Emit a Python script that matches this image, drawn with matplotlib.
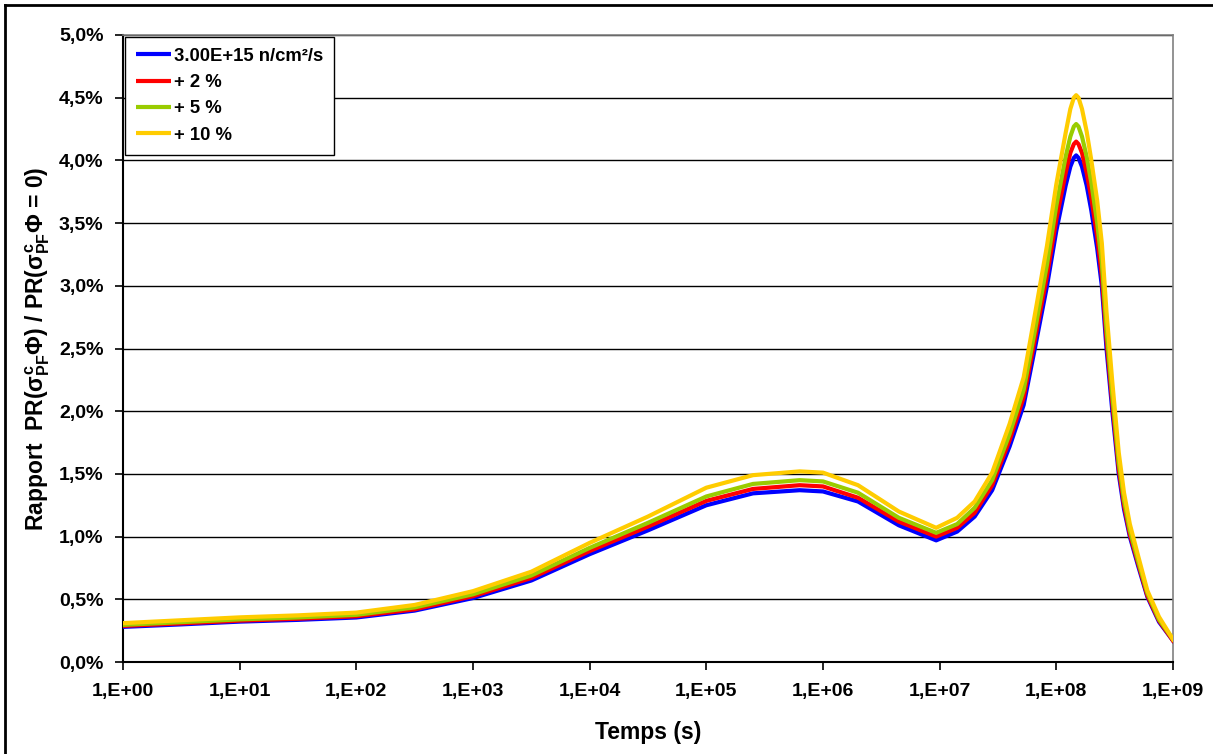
import numpy as np
import matplotlib
matplotlib.use("Agg")
import matplotlib.pyplot as plt
from matplotlib.ticker import FuncFormatter, FixedLocator
from matplotlib.lines import Line2D

plt.rcParams["font.family"] = ["Liberation Sans", "DejaVu Sans"]
plt.rcParams["font.weight"] = "bold"
plt.rcParams["mathtext.fontset"] = "custom"
plt.rcParams["mathtext.rm"] = "Liberation Sans:bold"
plt.rcParams["mathtext.it"] = "Liberation Sans:bold"
plt.rcParams["mathtext.bf"] = "Liberation Sans:bold"

# --------- data (log10 of time in s, ratio in %) ---------------------------------
log_t = [0.0, 0.5, 1.0, 1.5, 2.0, 2.5, 3.0, 3.5, 4.0, 4.5, 5.0, 5.4, 5.8, 6.0,
         6.3, 6.65, 6.97, 7.15, 7.3, 7.45, 7.6, 7.72, 7.82, 7.92, 8.0, 8.08,
         8.12, 8.15, 8.17, 8.19, 8.22, 8.26, 8.3, 8.35, 8.39, 8.43, 8.48,
         8.535, 8.58, 8.63, 8.7, 8.78, 8.88, 9.0]

ratio_ref = [0.280, 0.300, 0.322, 0.336, 0.355, 0.41, 0.51, 0.65, 0.86, 1.05,
             1.25, 1.345, 1.37, 1.36, 1.28, 1.09, 0.97, 1.04, 1.16, 1.37,
             1.72, 2.05, 2.52, 3.00, 3.44, 3.80, 3.95, 4.02, 4.04, 4.02, 3.95,
             3.80, 3.60, 3.30, 3.00, 2.50, 2.00, 1.50, 1.22, 1.00, 0.77, 0.52,
             0.32, 0.17]

ratio_p2 = [0.288, 0.308, 0.330, 0.345, 0.365, 0.42, 0.525, 0.67, 0.885, 1.08,
            1.285, 1.38, 1.41, 1.40, 1.31, 1.12, 1.00, 1.07, 1.19, 1.41,
            1.77, 2.11, 2.59, 3.08, 3.53, 3.90, 4.06, 4.13, 4.15, 4.13, 4.06,
            3.90, 3.70, 3.39, 3.08, 2.57, 2.06, 1.54, 1.25, 1.02, 0.79, 0.53,
            0.33, 0.17]

ratio_p5 = [0.296, 0.318, 0.340, 0.355, 0.376, 0.435, 0.54, 0.69, 0.91, 1.11,
            1.32, 1.42, 1.45, 1.44, 1.35, 1.15, 1.03, 1.10, 1.23, 1.45,
            1.82, 2.17, 2.66, 3.17, 3.64, 4.03, 4.19, 4.27, 4.29, 4.27, 4.19,
            4.03, 3.82, 3.50, 3.18, 2.65, 2.12, 1.59, 1.29, 1.05, 0.81, 0.55,
            0.34, 0.18]

ratio_p10 = [0.310, 0.333, 0.356, 0.372, 0.394, 0.455, 0.565, 0.72, 0.95, 1.16,
             1.39, 1.49, 1.52, 1.51, 1.41, 1.20, 1.07, 1.15, 1.28, 1.51,
             1.90, 2.27, 2.79, 3.32, 3.81, 4.22, 4.41, 4.50, 4.52, 4.50, 4.41,
             4.23, 4.00, 3.68, 3.34, 2.79, 2.23, 1.67, 1.35, 1.10, 0.85, 0.57,
             0.36, 0.18]

series_labels = ["3.00E+15 n/cm\u00b2/s", "+ 2 %", "+ 5 %", "+ 10 %"]
series_colors = ["#0000FF", "#FF0000", "#99CC00", "#FFCC00"]

x_ticks = [1e0, 1e1, 1e2, 1e3, 1e4, 1e5, 1e6, 1e7, 1e8, 1e9]
y_ticks = [0.0, 0.5, 1.0, 1.5, 2.0, 2.5, 3.0, 3.5, 4.0, 4.5, 5.0]


def main():
    fig = plt.figure(figsize=(12.13, 7.54), dpi=100)
    ax = fig.add_axes([123 / 1213, 1 - 662 / 754, 1050 / 1213, 627 / 754])

    t = 10 ** np.array(log_t)
    for vals, lab, col in zip([ratio_ref, ratio_p2, ratio_p5, ratio_p10],
                              series_labels, series_colors):
        ax.plot(t, vals, color=col, lw=3.0, label=lab, solid_joinstyle="round",
                zorder=3)

    ax.set_xscale("log")
    ax.set_xlim(1e0, 1e9)
    ax.set_ylim(0, 5)
    ax.xaxis.set_major_locator(FixedLocator(x_ticks))
    ax.xaxis.set_minor_locator(FixedLocator([]))
    ax.xaxis.set_major_formatter(
        FuncFormatter(lambda v, p: "1,E+%02d" % int(round(np.log10(v)))))
    ax.yaxis.set_major_locator(FixedLocator(y_ticks))
    ax.yaxis.set_major_formatter(
        FuncFormatter(lambda v, p: ("%.1f%%" % v).replace(".", ",")))

    ax.grid(axis="y", color="#000000", lw=1.0, zorder=1)
    ax.tick_params(axis="both", direction="out", length=6, width=1.2,
                   labelsize=14, colors="black")
    ax.tick_params(axis="x", pad=9)
    ax.tick_params(axis="y", pad=8)
    for lbl in ax.get_xticklabels() + ax.get_yticklabels():
        lbl.set_fontweight("bold")

    for s in ["left", "bottom"]:
        ax.spines[s].set_color("black")
        ax.spines[s].set_linewidth(1.5)
    for s in ["top", "right"]:
        ax.spines[s].set_color("#808080")
        ax.spines[s].set_linewidth(1.2)

    ax.set_xlabel("Temps (s)", fontsize=16.5, fontweight="bold", labelpad=15)
    ax.set_ylabel(r"Rapport  PR($\sigma^{c}_{PF}\Phi$) / PR($\sigma^{c}_{PF}\Phi$ = 0)",
                  fontsize=16.5, fontweight="bold", labelpad=5)

    handles = [Line2D([], [], color=c, lw=3.0, solid_capstyle="butt")
               for c in series_colors]
    leg = ax.legend(handles, series_labels, loc="upper left",
                    bbox_to_anchor=(0.002, 0.997),
                    prop={"weight": "bold", "size": 13.3},
                    frameon=True, fancybox=False, framealpha=1,
                    edgecolor="black", handlelength=1.9, handletextpad=0.15,
                    borderpad=0.6, labelspacing=0.5, borderaxespad=0)
    leg.get_frame().set_linewidth(1.0)
    leg.set_zorder(5)

    # outer chart frame (left and top edges visible in the reference)
    fig.add_artist(Line2D([5 / 1213, 5 / 1213], [0, 1 - 5 / 754],
                          transform=fig.transFigure, color="black", lw=2))
    fig.add_artist(Line2D([5 / 1213, 1], [1 - 5 / 754, 1 - 5 / 754],
                          transform=fig.transFigure, color="black", lw=2))

    fig.savefig("out.png", dpi=100)
    plt.close(fig)


if __name__ == "__main__":
    main()
